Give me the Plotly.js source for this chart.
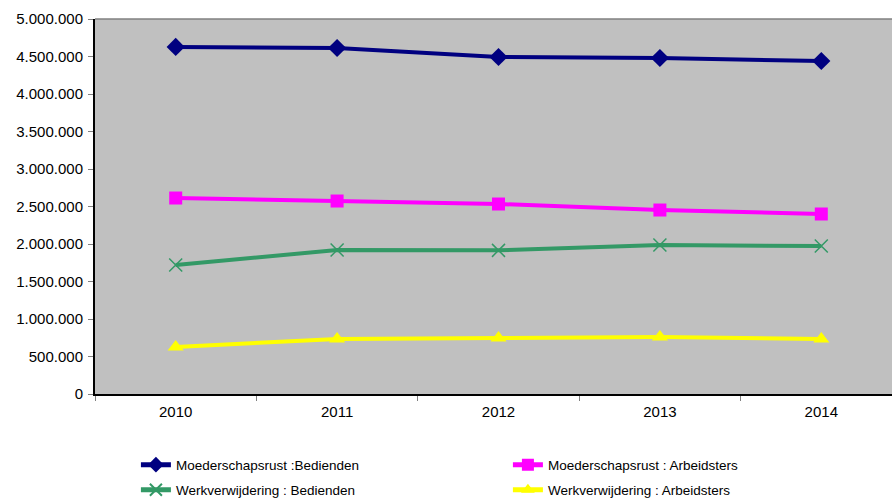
<!DOCTYPE html>
<html>
<head>
<meta charset="utf-8">
<script src="https://cdn.plot.ly/plotly-3.0.1.min.js"></script>
<style>
html,body{margin:0;padding:0;overflow:hidden;background:#fff;}
#chart{width:910px;height:498px;}
</style>
</head>
<body>
<div id="chart"></div>
<script>
const years = ['2010', '2011', '2012', '2013', '2014'];
const moederBedienden = [4627000, 4613000, 4493000, 4480000, 4440000];
const moederArbeidsters = [2613000, 2573000, 2533000, 2453000, 2400000];
const werkBedienden = [1720000, 1920000, 1915000, 1987000, 1973000];
const werkArbeidsters = [627000, 733000, 747000, 760000, 733000];
const yTickVals = [0, 500000, 1000000, 1500000, 2000000, 2500000, 3000000, 3500000, 4000000, 4500000, 5000000];
const yTickText = ['0', '500.000', '1.000.000', '1.500.000', '2.000.000', '2.500.000', '3.000.000', '3.500.000', '4.000.000', '4.500.000', '5.000.000'];

const traces = [
  {x: years, y: moederBedienden, name: 'Moederschapsrust :Bedienden', type: 'scatter', mode: 'lines+markers',
   line: {color: '#000080', width: 4}, marker: {symbol: 'diamond', size: 14, color: '#000080'}, legend: 'legend'},
  {x: years, y: moederArbeidsters, name: 'Moederschapsrust : Arbeidsters', type: 'scatter', mode: 'lines+markers',
   line: {color: '#FF00FF', width: 4}, marker: {symbol: 'square', size: 13, color: '#FF00FF'}, legend: 'legend'},
  {x: years, y: werkBedienden, name: 'Werkverwijdering : Bedienden', type: 'scatter', mode: 'lines+markers',
   line: {color: '#339966', width: 4}, marker: {symbol: 'x-thin', size: 13, color: '#339966', line: {color: '#339966', width: 1.5}}, legend: 'legend2'},
  {x: years, y: werkArbeidsters, name: 'Werkverwijdering : Arbeidsters', type: 'scatter', mode: 'lines+markers',
   line: {color: '#FFFF00', width: 4}, marker: {symbol: 'triangle-up', size: 14, color: '#FFFF00'}, legend: 'legend2'}
];

const legendBase = {
  orientation: 'h', xanchor: 'left', yanchor: 'middle', x: 0.0507,
  entrywidth: 327, entrywidthmode: 'pixels',
  font: {family: 'Liberation Sans, Arial, sans-serif', size: 13.5, color: '#000'},
  bgcolor: 'rgba(0,0,0,0)', itemsizing: 'constant', traceorder: 'normal'
};

const layout = {
  width: 910, height: 498,
  margin: {l: 95, r: 8, t: 19, b: 104, autoexpand: false},
  paper_bgcolor: '#ffffff', plot_bgcolor: '#C0C0C0',
  font: {family: 'Liberation Sans, Arial, sans-serif', size: 15, color: '#000'},
  showlegend: true,
  xaxis: {
    type: 'category', range: [-0.5, 4.5], tickson: 'boundaries', showgrid: false, zeroline: false,
    showline: true, linecolor: '#000', linewidth: 2,
    ticks: 'outside', ticklen: 5, tickcolor: '#808080', tickwidth: 1, ticklabelstandoff: 3,
    tickfont: {size: 15}, fixedrange: true
  },
  yaxis: {
    range: [0, 5000000], tickvals: yTickVals, ticktext: yTickText,
    showgrid: false, zeroline: false, showline: true, linecolor: '#000', linewidth: 2,
    ticks: 'outside', ticklen: 5, tickcolor: '#808080', tickwidth: 1, ticklabelstandoff: 2,
    tickfont: {size: 15}, fixedrange: true
  },
  shapes: [{type: 'line', xref: 'paper', yref: 'paper', x0: 0, x1: 1, y0: 1, y1: 1,
            line: {color: '#808080', width: 1.5}}],
  legend: Object.assign({}, legendBase, {y: -0.189}),
  legend2: Object.assign({}, legendBase, {y: -0.256})
};

Plotly.newPlot('chart', traces, layout, {displayModeBar: false, staticPlot: true});
</script>
</body>
</html>
